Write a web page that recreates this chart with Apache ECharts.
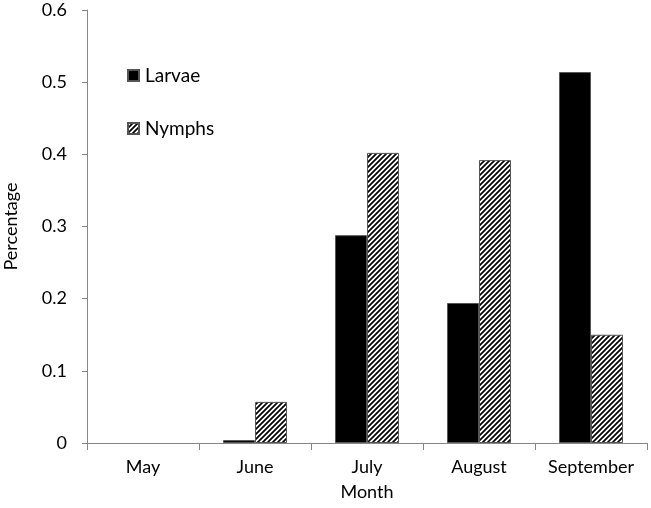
<!DOCTYPE html>
<html>
<head>
<meta charset="utf-8">
<script src="https://cdn.jsdelivr.net/npm/echarts@6/dist/echarts.min.js"></script>
<style>
  html, body { margin: 0; padding: 0; background: #fff; }
  #chart { width: 651px; height: 508px; }
</style>
</head>
<body>
<div id="chart"></div>
<script>
const months = ['May', 'June', 'July', 'August', 'September'];
const larvae = [0, 0.004, 0.288, 0.194, 0.514];
const nymphs = [0, 0.057, 0.402, 0.392, 0.150];
const yTicks = [0, 0.1, 0.2, 0.3, 0.4, 0.5, 0.6];

// diagonal hatch pattern for nymphs
function hatch() {
    let c = document.createElement('canvas');
    let s = 5;
    c.width = s;
    c.height = s;
    let ctx = c.getContext('2d');
    ctx.fillStyle = '#fff';
    ctx.fillRect(0, 0, s, s);
    ctx.strokeStyle = '#000';
    ctx.lineWidth = 1.7;
    ctx.beginPath();
    for (let k = -1; k <= 1; k++) {
        ctx.moveTo(k * s - 1, s + 1);
        ctx.lineTo(k * s + s + 1, -1);
    }
    ctx.stroke();
    return c;
}

// zero bars get no border so nothing is drawn for them
function bars(arr) {
    return arr.map(v => v === 0 ? { value: v, itemStyle: { borderWidth: 0, opacity: 0 } } : v);
}

let chart = echarts.init(document.getElementById('chart'));
let font = 'Lato, "Open Sans", sans-serif';
let axisColor = '#868686';

let option = {
    animation: false,
    textStyle: { fontFamily: font },
    grid: { left: 87, right: 4, top: 10, bottom: 65, outerBoundsMode: 'none' },
    legend: {
        orient: 'vertical',
        left: 127,
        top: 66,
        padding: 0,
        icon: 'rect',
        itemWidth: 11,
        itemHeight: 11,
        itemGap: 34,
        textStyle: { fontSize: 19, color: '#000', fontFamily: font, padding: [0, 0, 0, 1] },
        data: ['Larvae', 'Nymphs']
    },
    xAxis: {
        type: 'category',
        data: months,
        name: 'Month',
        nameLocation: 'middle',
        nameGap: 40,
        nameTextStyle: { fontSize: 18, color: '#000' },
        axisLine: { lineStyle: { color: axisColor } },
        axisTick: { show: true, length: 7, lineStyle: { color: axisColor } },
        axisLabel: { fontSize: 18, color: '#000', margin: 15, interval: 0, hideOverlap: false }
    },
    yAxis: {
        type: 'value',
        min: 0,
        max: 0.6,
        interval: 0.1,
        name: 'Percentage',
        nameLocation: 'middle',
        nameGap: 67,
        nameTextStyle: { fontSize: 18, color: '#000' },
        axisLine: { show: true, lineStyle: { color: axisColor } },
        axisTick: { show: true, length: 5, lineStyle: { color: axisColor } },
        splitLine: { show: false },
        axisLabel: {
            fontSize: 18,
            color: '#000',
            margin: 20,
            formatter: v => {
                let t = yTicks.find(x => Math.abs(x - v) < 1e-9);
                return t === undefined ? '' : String(t);
            }
        }
    },
    series: [{
        name: 'Larvae',
        type: 'bar',
        barWidth: 32,
        barGap: '0%',
        itemStyle: { color: '#000', borderColor: '#555', borderWidth: 1 },
        data: bars(larvae)
    }, {
        name: 'Nymphs',
        type: 'bar',
        barWidth: 32,
        itemStyle: {
            color: { image: hatch(), repeat: 'repeat' },
            borderColor: '#555',
            borderWidth: 1
        },
        data: bars(nymphs)
    }]
};

chart.setOption(option);
</script>
</body>
</html>
